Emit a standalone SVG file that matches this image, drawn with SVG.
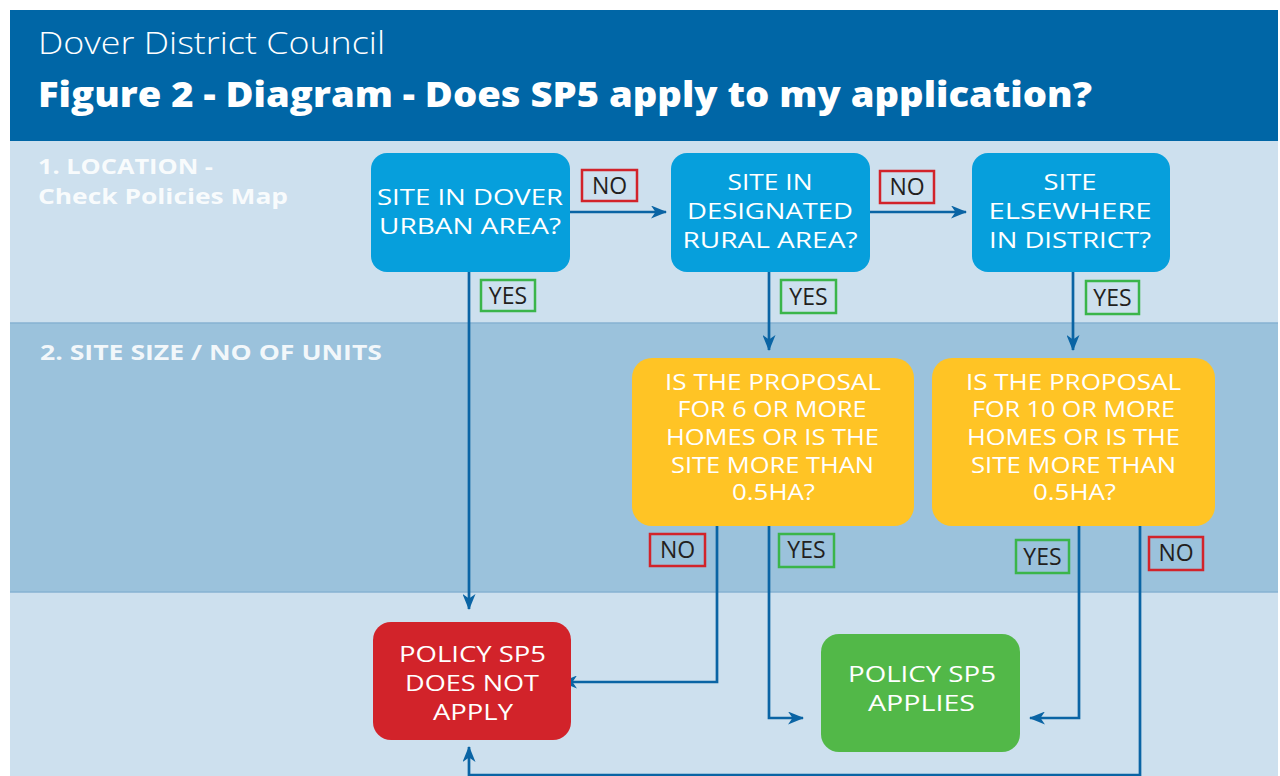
<svg xmlns="http://www.w3.org/2000/svg" width="1280" height="776" viewBox="0 0 1280 776">
<defs>
<style>
.hd{font-family:"Open Sans","Liberation Sans",sans-serif;fill:#ffffff}
.sec{font-family:"Open Sans","Liberation Sans",sans-serif;font-weight:700;font-size:22px;fill:#ffffff;fill-opacity:0.88}
.nt{font-family:"Open Sans","Liberation Sans",sans-serif;font-size:22px;fill:#ffffff;text-anchor:middle}
.yt{font-family:"Open Sans","Liberation Sans",sans-serif;font-size:21px;fill:#ffffff;text-anchor:middle}
.lb{font-family:"Open Sans","Liberation Sans",sans-serif;font-size:23px;fill:#231f20;text-anchor:middle}
.no{fill:none;stroke:#d2232a;stroke-width:2.5}
.yes{fill:none;stroke:#3ab54a;stroke-width:2.5}
.cn{fill:none;stroke:#0a64a4;stroke-width:2.7;marker-end:url(#ah)}
</style>
<marker id="ah" viewBox="0 0 16 13" refX="15" refY="6.5" markerWidth="16" markerHeight="13" markerUnits="userSpaceOnUse" orient="auto">
<path d="M0,0 L16,6.5 L0,13 L4.5,6.5 Z" fill="#0a64a4"/>
</marker>
</defs>
<rect x="0" y="0" width="1280" height="776" fill="#ffffff"/>
<g id="background">
<rect x="10" y="10" width="1268" height="131" fill="#0066a6"/>
<rect x="10" y="141" width="1268" height="182" fill="#cde0ee"/>
<rect x="10" y="323" width="1268" height="269" fill="#9bc2dc"/>
<rect x="10" y="592" width="1268" height="184" fill="#cde0ee"/>
<line x1="10" y1="323" x2="1278" y2="323" stroke="#86b2d2" stroke-width="1.5"/>
<line x1="10" y1="592" x2="1278" y2="592" stroke="#86b2d2" stroke-width="1.5"/>
</g>
<g id="header">
<text class="hd" x="38" y="54" font-size="32" font-weight="300" textLength="347" lengthAdjust="spacingAndGlyphs">Dover District Council</text>
<text class="hd" x="38" y="107" font-size="36" font-weight="800" textLength="1054" lengthAdjust="spacingAndGlyphs">Figure 2 - Diagram - Does SP5 apply to my application?</text>
</g>
<g id="sections">
<text class="sec" x="38" y="174" textLength="175" lengthAdjust="spacingAndGlyphs">1. LOCATION -</text>
<text class="sec" x="38" y="204" textLength="250" lengthAdjust="spacingAndGlyphs">Check Policies Map</text>
<text class="sec" x="40" y="360" textLength="342" lengthAdjust="spacingAndGlyphs">2. SITE SIZE / NO OF UNITS</text>
</g>
<g id="connectors">
<path class="cn" d="M570,212 H666"/>
<path class="cn" d="M870,212 H966"/>
<path class="cn" d="M469,272 V609"/>
<path class="cn" d="M769,272 V350"/>
<path class="cn" d="M1073,272 V350"/>
<path class="cn" d="M717,526 V682 H562"/>
<path class="cn" d="M769,526 V718 H803"/>
<path class="cn" d="M1079,526 V718 H1030"/>
<path class="cn" d="M1140,526 V775 H469 V747"/>
</g>
<g id="labels">
<rect class="no" x="582" y="170" width="55" height="31"/>
<text class="lb" x="609.5" y="194">NO</text>
<rect class="no" x="880" y="171" width="54" height="32"/>
<text class="lb" x="907" y="195">NO</text>
<rect class="yes" x="481" y="280" width="54" height="31"/>
<text class="lb" x="508" y="304">YES</text>
<rect class="yes" x="781" y="280" width="55" height="33"/>
<text class="lb" x="808.5" y="305">YES</text>
<rect class="yes" x="1086" y="281" width="53" height="33"/>
<text class="lb" x="1112.5" y="306">YES</text>
<rect class="no" x="650" y="534" width="55" height="32"/>
<text class="lb" x="677.5" y="558">NO</text>
<rect class="yes" x="779" y="534" width="55" height="33"/>
<text class="lb" x="806.5" y="558">YES</text>
<rect class="yes" x="1016" y="540" width="53" height="33"/>
<text class="lb" x="1042.5" y="565">YES</text>
<rect class="no" x="1149" y="537" width="54" height="33"/>
<text class="lb" x="1176" y="561">NO</text>
</g>
<g id="n1">
<rect x="371" y="153" width="199" height="119" rx="16" fill="#069fdc"/>
<text class="nt" x="470" y="205" textLength="186" lengthAdjust="spacingAndGlyphs">SITE IN DOVER</text>
<text class="nt" x="470" y="234" textLength="182" lengthAdjust="spacingAndGlyphs">URBAN AREA?</text>
</g>
<g id="n2">
<rect x="671" y="153" width="199" height="119" rx="16" fill="#069fdc"/>
<text class="nt" x="770" y="190" textLength="85" lengthAdjust="spacingAndGlyphs">SITE IN</text>
<text class="nt" x="770" y="219" textLength="166" lengthAdjust="spacingAndGlyphs">DESIGNATED</text>
<text class="nt" x="770" y="248" textLength="175" lengthAdjust="spacingAndGlyphs">RURAL AREA?</text>
</g>
<g id="n3">
<rect x="972" y="153" width="198" height="119" rx="16" fill="#069fdc"/>
<text class="nt" x="1070" y="190" textLength="53" lengthAdjust="spacingAndGlyphs">SITE</text>
<text class="nt" x="1070" y="219" textLength="163" lengthAdjust="spacingAndGlyphs">ELSEWHERE</text>
<text class="nt" x="1070" y="248" textLength="162" lengthAdjust="spacingAndGlyphs">IN DISTRICT?</text>
</g>
<g id="n4">
<rect x="632" y="358" width="282" height="168" rx="20" fill="#ffc425"/>
<text class="yt" x="773" y="390" textLength="216" lengthAdjust="spacingAndGlyphs">IS THE PROPOSAL</text>
<text class="yt" x="772" y="417" textLength="189" lengthAdjust="spacingAndGlyphs">FOR 6 OR MORE</text>
<text class="yt" x="772.5" y="445" textLength="213" lengthAdjust="spacingAndGlyphs">HOMES OR IS THE</text>
<text class="yt" x="772.5" y="473" textLength="203" lengthAdjust="spacingAndGlyphs">SITE MORE THAN</text>
<text class="yt" x="773.5" y="500" textLength="83" lengthAdjust="spacingAndGlyphs">0.5HA?</text>
</g>
<g id="n5">
<rect x="932" y="358" width="283" height="168" rx="20" fill="#ffc425"/>
<text class="yt" x="1073.5" y="390" textLength="215" lengthAdjust="spacingAndGlyphs">IS THE PROPOSAL</text>
<text class="yt" x="1073.5" y="417" textLength="203" lengthAdjust="spacingAndGlyphs">FOR 10 OR MORE</text>
<text class="yt" x="1073.5" y="445" textLength="213" lengthAdjust="spacingAndGlyphs">HOMES OR IS THE</text>
<text class="yt" x="1073.5" y="473" textLength="205" lengthAdjust="spacingAndGlyphs">SITE MORE THAN</text>
<text class="yt" x="1074.5" y="500" textLength="83" lengthAdjust="spacingAndGlyphs">0.5HA?</text>
</g>
<g id="n6">
<rect x="373" y="622" width="198" height="118" rx="18" fill="#d2232a"/>
<text class="nt" x="472.5" y="662" textLength="147" lengthAdjust="spacingAndGlyphs">POLICY SP5</text>
<text class="nt" x="472" y="691" textLength="134" lengthAdjust="spacingAndGlyphs">DOES NOT</text>
<text class="nt" x="473" y="720" textLength="80" lengthAdjust="spacingAndGlyphs">APPLY</text>
</g>
<g id="n7">
<rect x="821" y="634" width="199" height="118" rx="18" fill="#52b848"/>
<text class="nt" x="922" y="682" textLength="148" lengthAdjust="spacingAndGlyphs">POLICY SP5</text>
<text class="nt" x="921.5" y="711" textLength="107" lengthAdjust="spacingAndGlyphs">APPLIES</text>
</g>
</svg>
